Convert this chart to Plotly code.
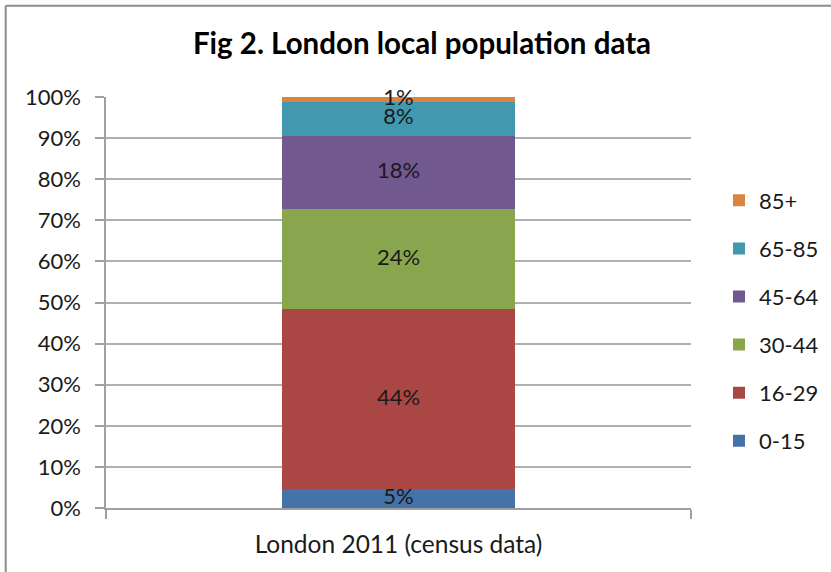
import plotly.graph_objects as go

categories = ["London 2011 (census data)"]
groups = ["0-15", "16-29", "30-44", "45-64", "65-85", "85+"]
values = [4.6, 43.8, 24.3, 17.8, 8.4, 1.1]
colors = ["#4572A7", "#AA4643", "#89A54E", "#71588F", "#4198AF", "#DB843D"]
y_ticks = [0, 10, 20, 30, 40, 50, 60, 70, 80, 90, 100]

FONT = "Lato"
W, H = 831, 572
L, R, T, B = 106, 691, 97, 508

fig = go.Figure()
n = len(groups)
for i, (g, v, c) in enumerate(zip(groups, values, colors)):
    fig.add_trace(go.Bar(
        x=categories, y=[v], name=g, marker=dict(color=c, line=dict(width=0)),
        width=0.397, legendgroup=g, legendrank=n - i,
        textposition="none", hoverinfo="skip",
    ))

# labels at segment midpoints
mids, acc = [], 0
for v in values:
    mids.append(acc + v / 2)
    acc += v
fig.add_trace(go.Scatter(
    x=categories * len(values), y=mids, mode="text",
    text=[f"{v:.0f}%" for v in values],
    textfont=dict(family=FONT, size=22, color="#1a1a1a"),
    showlegend=False, hoverinfo="skip", cliponaxis=False,
))

def px2x(px):
    return (px - L) / (R - L)

def py2y(py):
    return (B - py) / (B - T)

fig.update_layout(
    width=W, height=H,
    barmode="stack",
    bargap=0,
    paper_bgcolor="white", plot_bgcolor="white",
    margin=dict(l=L, r=W - R, t=T, b=H - B, pad=0),
    font=dict(family=FONT, size=22, color="#1a1a1a"),
    title=dict(text="<b>Fig 2. London local population data</b>",
               x=422 / W, xanchor="center", xref="container",
               y=1 - 43.5 / H, yanchor="middle", yref="container",
               font=dict(family=FONT, size=29.5, color="#000000")),
    xaxis=dict(type="category", range=[-0.5, 0.5], showgrid=False,
               showline=True, linecolor="#a0a0a0", linewidth=1.5,
               ticks="outside", tickson="boundaries", ticklen=9,
               tickcolor="#a0a0a0", tickwidth=1.5, ticklabelstandoff=14,
               tickfont=dict(family=FONT, size=24.5, color="#1a1a1a")),
    yaxis=dict(range=[0, 100], tickvals=y_ticks,
               ticktext=[f"{t}%" for t in y_ticks],
               showgrid=True, gridcolor="#b0b0b0", gridwidth=1.5,
               showline=True, linecolor="#a0a0a0", linewidth=1.5,
               ticks="outside", ticklen=9, tickcolor="#a0a0a0", tickwidth=1.5,
               zeroline=False, ticklabelstandoff=10,
               tickfont=dict(family=FONT, size=22, color="#1a1a1a")),
    legend=dict(x=719 / W, xref="container", xanchor="left",
                y=0.5 - (321 - H / 2) / H, yref="container", yanchor="middle",
                traceorder="grouped", tracegroupgap=16.5,
                font=dict(family=FONT, size=22, color="#1a1a1a"),
                bgcolor="rgba(0,0,0,0)", itemwidth=30),
    shapes=[
        dict(type="line", xref="paper", yref="paper",
             x0=px2x(5.7), x1=px2x(W + 20), y0=py2y(5.7), y1=py2y(5.7),
             line=dict(color="#8c8c8c", width=2)),
        dict(type="line", xref="paper", yref="paper",
             x0=px2x(5.7), x1=px2x(5.7), y0=py2y(5.7), y1=py2y(H + 20),
             line=dict(color="#8c8c8c", width=2)),
    ],
)

fig.write_html("out.html", config={"displayModeBar": False},
               post_script="document.body.style.margin='0';")
